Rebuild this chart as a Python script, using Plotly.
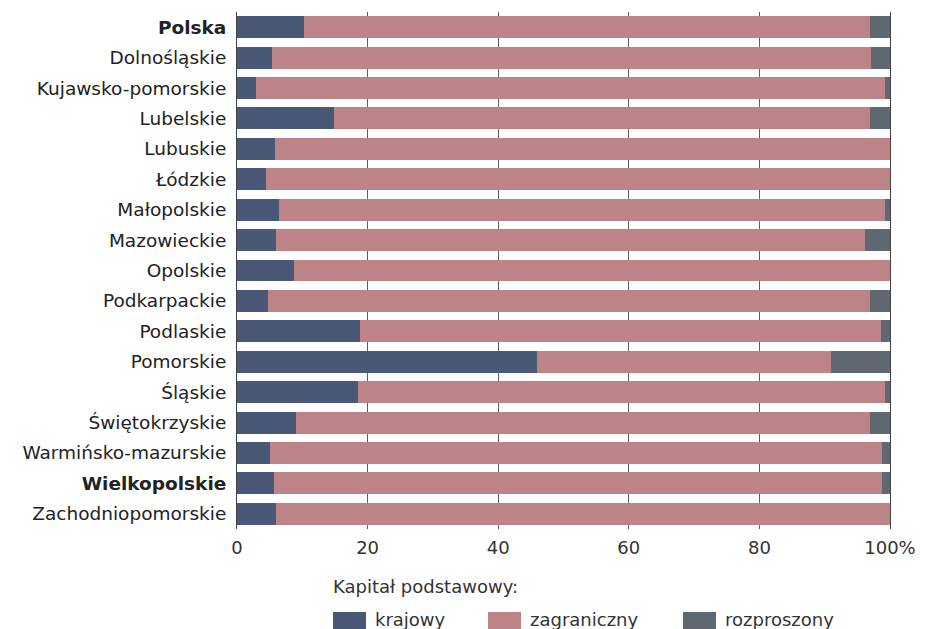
import plotly.graph_objects as go

regiony = ["<b>Polska</b>", "Dolnośląskie", "Kujawsko-pomorskie", "Lubelskie", "Lubuskie",
           "Łódzkie", "Małopolskie", "Mazowieckie", "Opolskie", "Podkarpackie",
           "Podlaskie", "Pomorskie", "Śląskie", "Świętokrzyskie", "Warmińsko-mazurskie",
           "<b>Wielkopolskie</b>", "Zachodniopomorskie"]

krajowy = [10.2, 5.3, 2.9, 14.8, 5.8, 4.5, 6.4, 5.9, 8.8, 4.7,
           18.9, 45.9, 18.5, 9.1, 5.0, 5.6, 5.9]
zagraniczny = [86.7, 91.8, 96.4, 82.1, 94.2, 95.5, 92.9, 90.2, 91.2, 92.2,
               79.7, 45.0, 80.8, 87.9, 93.8, 93.1, 94.1]
rozproszony = [3.1, 2.9, 0.7, 3.1, 0.0, 0.0, 0.7, 3.9, 0.0, 3.1,
               1.4, 9.1, 0.7, 3.0, 1.2, 1.3, 0.0]

tick_vals = [0, 20, 40, 60, 80, 100]
tick_text = ["0", "20", "40", "60", "80", "100%"]

kolory = {"krajowy": "#4a5878", "zagraniczny": "#bd8487", "rozproszony": "#5f6870"}
FONT = "DejaVu Sans"

# strona ma 8 px marginesu body, wiec figura jest o 8 px mniejsza
OFF = 8
L, T, B = 237 - OFF, 12 - OFF, 100
W, H = 925 - OFF, 629 - OFF
PW, PH = 653, H - T - B
Y0 = T + PH  # dol obszaru wykresu (px w figurze)


def px_x(px):
    return (px - OFF - L) / PW


def px_y(py):
    return (Y0 - (py - OFF)) / PH


fig = go.Figure()
for nazwa, wartosci in [("krajowy", krajowy), ("zagraniczny", zagraniczny), ("rozproszony", rozproszony)]:
    fig.add_trace(go.Bar(y=regiony, x=wartosci, orientation="h", name=nazwa,
                         marker=dict(color=kolory[nazwa], line=dict(width=0)),
                         width=0.72, showlegend=False))

# legenda rysowana recznie (prostokaty jak w oryginale)
fig.add_annotation(text="Kapitał podstawowy:", xref="paper", yref="paper",
                   x=px_x(331), y=px_y(586), xanchor="left", yanchor="middle",
                   showarrow=False, font=dict(size=18, color="#333333", family=FONT))
for nazwa, px in [("krajowy", 333), ("zagraniczny", 488), ("rozproszony", 683)]:
    fig.add_shape(type="rect", xref="paper", yref="paper",
                  x0=px_x(px), x1=px_x(px + 33),
                  y0=px_y(640), y1=px_y(612),
                  fillcolor=kolory[nazwa], line=dict(width=0))
    fig.add_annotation(text=nazwa, xref="paper", yref="paper",
                       x=px_x(px + 40), y=px_y(619),
                       xanchor="left", yanchor="middle", showarrow=False,
                       font=dict(size=18, color="#333333", family=FONT))

fig.update_layout(
    barmode="stack",
    width=W, height=H,
    margin=dict(l=L, r=35, t=T, b=B, autoexpand=False),
    paper_bgcolor="white", plot_bgcolor="white",
    font=dict(family=FONT, size=18, color="#333333"),
)
fig.update_xaxes(range=[0, 100], tickvals=tick_vals, ticktext=tick_text,
                 showgrid=True, gridcolor="#5e5e5e", gridwidth=1,
                 zeroline=False, showline=False, ticks="", ticklabelstandoff=6,
                 tickfont=dict(size=18, color="#333333"))
fig.update_yaxes(autorange="reversed", showline=True, mirror=True, linecolor="#444444",
                 linewidth=1, showgrid=False, ticks="", ticklabelstandoff=6,
                 tickfont=dict(size=18.5, color="#222222"))

fig.write_html("out.html")
